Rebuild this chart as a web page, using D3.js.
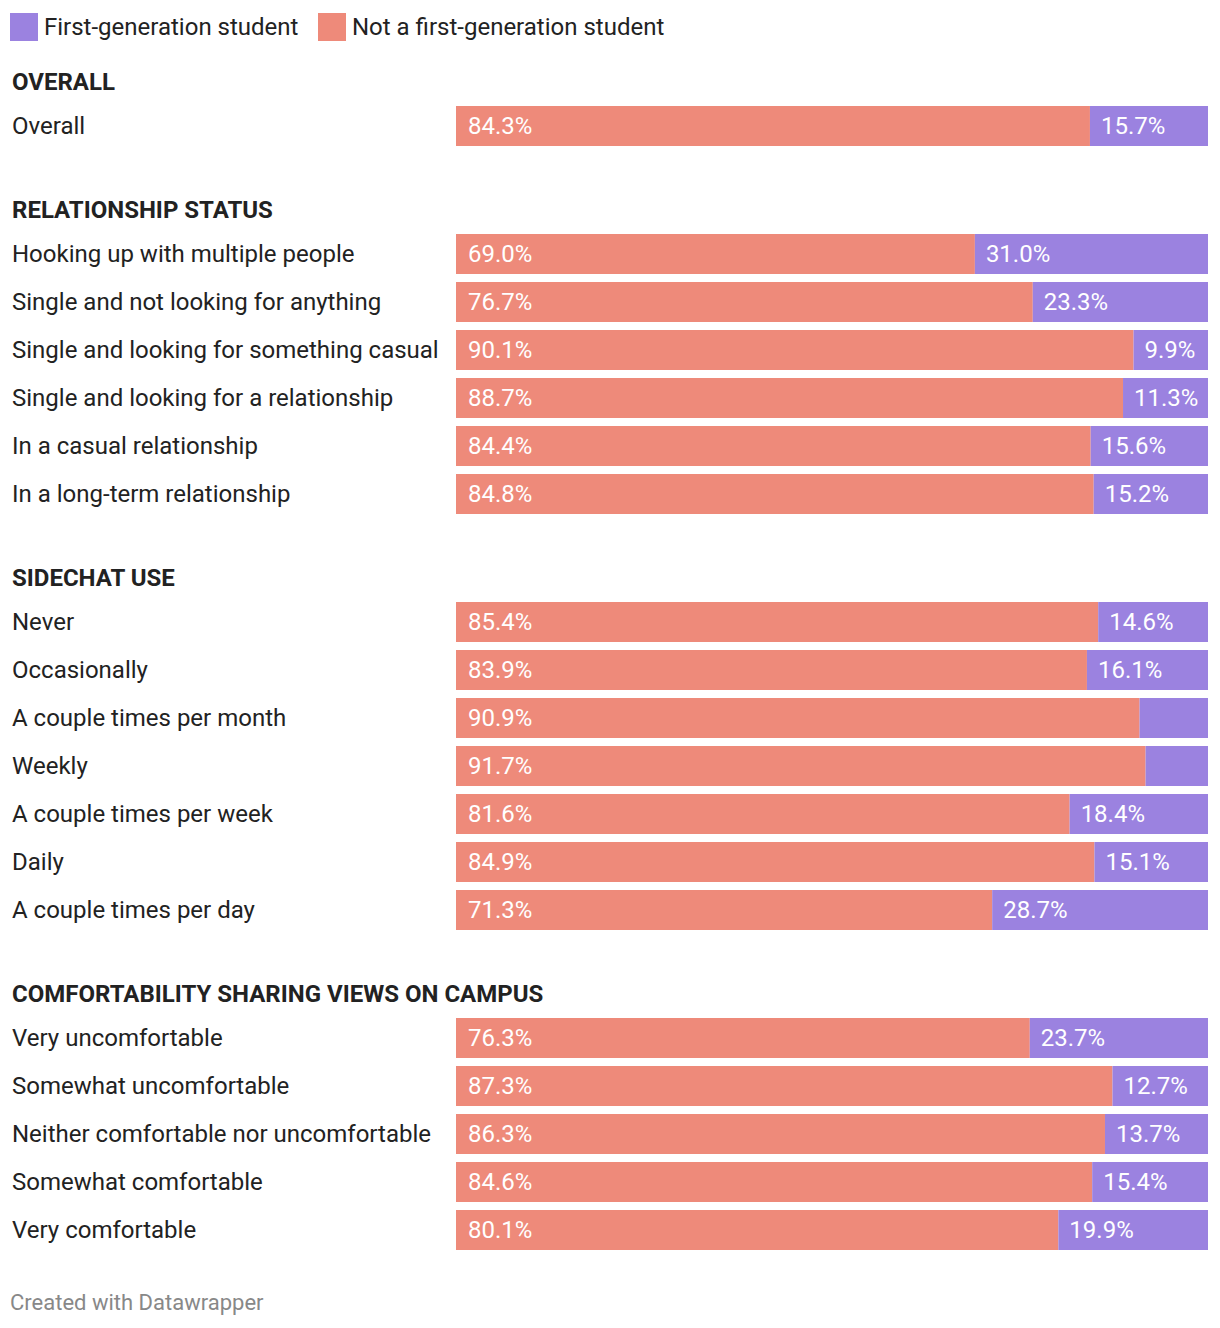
<!DOCTYPE html>
<html><head><meta charset="utf-8">
<script src="https://cdn.jsdelivr.net/npm/d3@7"></script>
<style>
body{margin:0;background:#fff;}
svg text{font-family:Roboto, "Noto Sans", sans-serif;}
</style></head>
<body>
<svg id="chart" width="1220" height="1328"></svg>
<script>
const seriesNames = ["First-generation student", "Not a first-generation student"];
const groups = ["OVERALL", "RELATIONSHIP STATUS", "SIDECHAT USE", "COMFORTABILITY SHARING VIEWS ON CAMPUS"];
const groupCategories = [
  ["Overall"],
  ["Hooking up with multiple people","Single and not looking for anything","Single and looking for something casual","Single and looking for a relationship","In a casual relationship","In a long-term relationship"],
  ["Never","Occasionally","A couple times per month","Weekly","A couple times per week","Daily","A couple times per day"],
  ["Very uncomfortable","Somewhat uncomfortable","Neither comfortable nor uncomfortable","Somewhat comfortable","Very comfortable"]
];
const notFirstGen = [
  [84.3],
  [69.0,76.7,90.1,88.7,84.4,84.8],
  [85.4,83.9,90.9,91.7,81.6,84.9,71.3],
  [76.3,87.3,86.3,84.6,80.1]
];
const firstGen = [
  [15.7],
  [31.0,23.3,9.9,11.3,15.6,15.2],
  [14.6,16.1,9.1,8.3,18.4,15.1,28.7],
  [23.7,12.7,13.7,15.4,19.9]
];
const colors = {first:"#9b82e0", notFirst:"#ee8a7a"};

const svg = d3.select("#chart");
const x = d3.scaleLinear().domain([0,100]).range([456,1208]);
const barH = 40, step = 48;
const fs = 24;

// legend
const legend = svg.append("g");
legend.append("rect").attr("x",10).attr("y",13).attr("width",28).attr("height",28).attr("fill",colors.first);
legend.append("text").attr("x",44).attr("y",27).attr("dy","0.35em").attr("font-size",fs).attr("fill","#222").text(seriesNames[0]);
legend.append("rect").attr("x",318).attr("y",13).attr("width",28).attr("height",28).attr("fill",colors.notFirst);
legend.append("text").attr("x",352).attr("y",27).attr("dy","0.35em").attr("font-size",fs).attr("fill","#222").text(seriesNames[1]);

let y = 82;
groups.forEach((g, gi) => {
  svg.append("text").attr("x",12).attr("y",y).attr("dy","0.35em")
    .attr("font-size",fs).attr("font-weight",700).attr("fill","#222").text(g);
  const top = y + 24;
  const cats = groupCategories[gi];
  const yb = d3.scaleBand().domain(cats).range([top, top + step*cats.length - 8]).paddingInner(8/48).paddingOuter(0);
  cats.forEach((c, i) => {
    const by = top + i*step;
    const nf = notFirstGen[gi][i], fg = firstGen[gi][i];
    svg.append("text").attr("x",12).attr("y",by+barH/2).attr("dy","0.35em")
      .attr("font-size",fs).attr("fill","#222").text(c);
    svg.append("rect").attr("x",x(0)).attr("y",by).attr("width",x(nf)-x(0)).attr("height",barH).attr("fill",colors.notFirst);
    svg.append("rect").attr("x",x(nf)).attr("y",by).attr("width",x(100)-x(nf)).attr("height",barH).attr("fill",colors.first);
    svg.append("text").attr("x",x(0)+12).attr("y",by+barH/2).attr("dy","0.35em")
      .attr("font-size",fs).attr("fill","#fff").text(nf.toFixed(1)+"%");
    const t = svg.append("text").attr("x",x(nf)+11).attr("y",by+barH/2).attr("dy","0.35em")
      .attr("font-size",fs).attr("fill","#fff").text(fg.toFixed(1)+"%");
    const tw = t.node().getComputedTextLength();
    if (x(100)-x(nf) < tw + 18) t.remove();
  });
  y = top + step*cats.length - 8 + 64;
});

svg.append("text").attr("x",10).attr("y",1302).attr("dy","0.35em")
  .attr("font-size",22).attr("fill","#888").text("Created with Datawrapper");
</script>
</body></html>
